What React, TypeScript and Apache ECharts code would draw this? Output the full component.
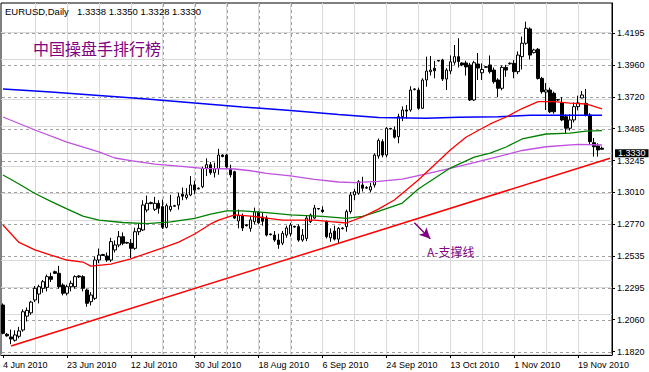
import React, { useEffect, useRef } from 'react';
import * as echarts from 'echarts';

const symbolName = 'EURUSD,Daily';
const headline = '中国操盘手排行榜';
const supportLabel = 'A-支撑线';

// Daily bars, 4 Jun 2010 .. 26 Nov 2010 (broker has short Sunday bars)
const opens = [
  1.2168, 1.1950, 1.1930, 1.1905, 1.1935, 1.1982, 1.2085, 1.2110, 1.2206, 1.2250,
  1.2293, 1.2300, 1.2380, 1.2417, 1.2405, 1.2317, 1.2256, 1.2305, 1.2305, 1.2385,
  1.2380, 1.2280, 1.2193, 1.2218, 1.2504, 1.2545, 1.2534, 1.2504, 1.2579, 1.2616,
  1.2678, 1.2630, 1.2629, 1.2591, 1.2715, 1.2728, 1.2877, 1.2932, 1.2882, 1.2927,
  1.2902, 1.2748, 1.2880, 1.2905, 1.2914, 1.2995, 1.2970, 1.2989, 1.3064, 1.3035,
  1.3051, 1.3190, 1.3215, 1.3155, 1.3185, 1.3287, 1.3287, 1.3185, 1.3163, 1.2795,
  1.2835, 1.2767, 1.2740, 1.2790, 1.2860, 1.2825, 1.2817, 1.2698, 1.2690, 1.2653,
  1.2630, 1.2690, 1.2700, 1.2755, 1.2753, 1.2653, 1.2665, 1.2790, 1.2817, 1.2888,
  1.2877, 1.2790, 1.2670, 1.2720, 1.2660, 1.2738, 1.2753, 1.2865, 1.2990, 1.3002,
  1.3064, 1.3040, 1.3026, 1.3064, 1.3280, 1.3387, 1.3287, 1.3485, 1.3474, 1.3424,
  1.3573, 1.3623, 1.3623, 1.3775, 1.3772, 1.3636, 1.3847, 1.3909, 1.3934, 1.3993,
  1.3996, 1.3854, 1.3914, 1.3979, 1.4021, 1.3974, 1.3974, 1.3959, 1.3698, 1.3966,
  1.3901, 1.3946, 1.3959, 1.3921, 1.3847, 1.3785, 1.3941, 1.3968, 1.3971, 1.3909,
  1.4021, 1.4121, 1.4228, 1.4051, 1.4076, 1.3859, 1.3757, 1.3772, 1.3748, 1.3700,
  1.3676, 1.3573, 1.3487, 1.3549, 1.3648, 1.3713, 1.3673, 1.3586, 1.3379, 1.3355,
  1.3338,
];
const highs = [
  1.2180, 1.1960, 1.1985, 1.1980, 1.2005, 1.2136, 1.2150, 1.2200, 1.2310, 1.2320,
  1.2355, 1.2395, 1.2410, 1.2425, 1.2460, 1.2330, 1.2320, 1.2350, 1.2390, 1.2390,
  1.2390, 1.2290, 1.2265, 1.2530, 1.2590, 1.2550, 1.2560, 1.2670, 1.2650, 1.2720,
  1.2710, 1.2640, 1.2660, 1.2745, 1.2780, 1.2950, 1.2985, 1.2940, 1.2975, 1.2950,
  1.2955, 1.2925, 1.2990, 1.2915, 1.3005, 1.3045, 1.3040, 1.3130, 1.3095, 1.3045,
  1.3200, 1.3262, 1.3235, 1.3230, 1.3333, 1.3292, 1.3295, 1.3215, 1.3170, 1.2880,
  1.2850, 1.2770, 1.2830, 1.2895, 1.2870, 1.2860, 1.2835, 1.2702, 1.2720, 1.2700,
  1.2720, 1.2760, 1.2780, 1.2760, 1.2770, 1.2735, 1.2840, 1.2850, 1.2915, 1.2892,
  1.2905, 1.2800, 1.2740, 1.2760, 1.2750, 1.2748, 1.2880, 1.3010, 1.3035, 1.3100,
  1.3125, 1.3055, 1.3080, 1.3300, 1.3410, 1.3405, 1.3495, 1.3490, 1.3500, 1.3595,
  1.3650, 1.3660, 1.3800, 1.3785, 1.3790, 1.3860, 1.4021, 1.4026, 1.3990, 1.3996,
  1.4005, 1.3935, 1.4030, 1.4108, 1.4158, 1.3978, 1.3990, 1.3975, 1.3990, 1.4048,
  1.3971, 1.3950, 1.4030, 1.3940, 1.3860, 1.3955, 1.3960, 1.3978, 1.3995, 1.4060,
  1.4170, 1.4282, 1.4240, 1.4080, 1.4085, 1.3870, 1.3824, 1.3790, 1.3760, 1.3705,
  1.3720, 1.3590, 1.3590, 1.3680, 1.3730, 1.3765, 1.3780, 1.3600, 1.3414, 1.3375,
  1.3350,
];
const lows = [
  1.1950, 1.1932, 1.1876, 1.1895, 1.1920, 1.1969, 1.2045, 1.2095, 1.2190, 1.2180,
  1.2260, 1.2270, 1.2340, 1.2400, 1.2290, 1.2240, 1.2240, 1.2270, 1.2290, 1.2370,
  1.2270, 1.2155, 1.2165, 1.2205, 1.2480, 1.2535, 1.2490, 1.2490, 1.2560, 1.2600,
  1.2615, 1.2625, 1.2519, 1.2580, 1.2690, 1.2720, 1.2860, 1.2920, 1.2870, 1.2850,
  1.2735, 1.2740, 1.2865, 1.2900, 1.2880, 1.2950, 1.2955, 1.2980, 1.2995, 1.3030,
  1.3040, 1.3130, 1.3140, 1.3120, 1.3140, 1.3270, 1.3190, 1.3120, 1.2810, 1.2740,
  1.2720, 1.2755, 1.2715, 1.2770, 1.2770, 1.2760, 1.2680, 1.2688, 1.2640, 1.2588,
  1.2615, 1.2670, 1.2680, 1.2745, 1.2640, 1.2640, 1.2645, 1.2780, 1.2810, 1.2880,
  1.2855, 1.2665, 1.2640, 1.2650, 1.2630, 1.2732, 1.2715, 1.2850, 1.2950, 1.2990,
  1.3015, 1.3035, 1.3010, 1.3045, 1.3260, 1.3270, 1.3270, 1.3478, 1.3410, 1.3375,
  1.3540, 1.3560, 1.3610, 1.3770, 1.3625, 1.3630, 1.3797, 1.3880, 1.3860, 1.3985,
  1.3840, 1.3772, 1.3890, 1.3960, 1.3940, 1.3950, 1.3880, 1.3690, 1.3690, 1.3847,
  1.3847, 1.3938, 1.3895, 1.3820, 1.3718, 1.3770, 1.3870, 1.3962, 1.3860, 1.3890,
  1.3925, 1.4110, 1.4000, 1.4045, 1.3850, 1.3745, 1.3623, 1.3600, 1.3595, 1.3690,
  1.3540, 1.3445, 1.3470, 1.3530, 1.3620, 1.3710, 1.3575, 1.3370, 1.3275, 1.3275,
  1.3328,
];
const closes = [
  1.1957, 1.1938, 1.1915, 1.1945, 1.1975, 1.2118, 1.2128, 1.2190, 1.2293, 1.2305,
  1.2342, 1.2380, 1.2360, 1.2405, 1.2305, 1.2256, 1.2305, 1.2330, 1.2380, 1.2378,
  1.2293, 1.2181, 1.2243, 1.2504, 1.2541, 1.2538, 1.2504, 1.2641, 1.2616, 1.2678,
  1.2629, 1.2635, 1.2591, 1.2715, 1.2740, 1.2914, 1.2927, 1.2925, 1.2927, 1.2890,
  1.2748, 1.2909, 1.2905, 1.2910, 1.2976, 1.2980, 1.2990, 1.3064, 1.3026, 1.3040,
  1.3188, 1.3215, 1.3155, 1.3185, 1.3287, 1.3276, 1.3200, 1.3140, 1.2817, 1.2835,
  1.2743, 1.2760, 1.2803, 1.2865, 1.2782, 1.2793, 1.2690, 1.2693, 1.2653, 1.2620,
  1.2703, 1.2743, 1.2765, 1.2750, 1.2653, 1.2690, 1.2817, 1.2840, 1.2892, 1.2885,
  1.2865, 1.2678, 1.2705, 1.2660, 1.2740, 1.2742, 1.2865, 1.2989, 1.3014, 1.3088,
  1.3040, 1.3045, 1.3051, 1.3287, 1.3395, 1.3287, 1.3487, 1.3481, 1.3420, 1.3573,
  1.3623, 1.3615, 1.3772, 1.3780, 1.3636, 1.3847, 1.3914, 1.3921, 1.3916, 1.3989,
  1.3854, 1.3921, 1.3983, 1.4021, 1.3985, 1.3959, 1.3944, 1.3698, 1.3976, 1.3936,
  1.3926, 1.3942, 1.3909, 1.3834, 1.3785, 1.3941, 1.3921, 1.3972, 1.3909, 1.4033,
  1.4121, 1.4233, 1.4033, 1.4071, 1.3859, 1.3760, 1.3772, 1.3610, 1.3610, 1.3698,
  1.3549, 1.3487, 1.3549, 1.3648, 1.3676, 1.3735, 1.3586, 1.3387, 1.3349, 1.3325,
  1.3330,
];

// date labels, one every 16 bars
const xTickLabels = [
  '4 Jun 2010', '23 Jun 2010', '12 Jul 2010', '30 Jul 2010', '18 Aug 2010',
  '6 Sep 2010', '24 Sep 2010', '13 Oct 2010', '1 Nov 2010', '19 Nov 2010',
];
const yTickLabels = [
  '1.1820', '1.2060', '1.2295', '1.2535', '1.2770', '1.3010',
  '1.3245', '1.3485', '1.3720', '1.3960', '1.4195',
];

// moving averages: [bar index, value]
const maRed = [
  [0, 1.2765], [4, 1.2635], [8, 1.2579], [12, 1.2541], [16, 1.2504], [20, 1.2489],
  [22, 1.2459], [27, 1.2474], [32, 1.2512], [36, 1.2554], [40, 1.2594], [44, 1.2638],
  [48, 1.2698], [52, 1.2773], [54, 1.2802], [58, 1.2840], [62, 1.2832], [66, 1.2817],
  [70, 1.2802], [74, 1.2802], [78, 1.2802], [82, 1.2790], [86, 1.2780], [90, 1.2825],
  [94, 1.2884], [98, 1.2952], [104, 1.3101], [112, 1.3325], [116, 1.3422], [122, 1.3519],
  [126, 1.3571], [130, 1.3634], [134, 1.3685], [138, 1.3685], [142, 1.3675], [146, 1.3668],
  [150, 1.3631],
];
const maGreen = [
  [0, 1.3138], [4, 1.3071], [8, 1.3000], [12, 1.2941], [16, 1.2885], [20, 1.2832],
  [24, 1.2802], [30, 1.2784], [36, 1.2776], [42, 1.2788], [48, 1.2814], [52, 1.2847],
  [56, 1.2870], [60, 1.2870], [66, 1.2858], [72, 1.2840], [80, 1.2829], [86, 1.2815],
  [90, 1.2829], [94, 1.2866], [100, 1.2929], [104, 1.3034], [112, 1.3190], [118, 1.3272],
  [122, 1.3302], [126, 1.3347], [130, 1.3407], [136, 1.3444], [142, 1.3451], [146, 1.3466],
  [150, 1.3469],
];
const maViolet = [
  [0, 1.3571], [8, 1.3474], [16, 1.3384], [24, 1.3310], [28, 1.3265], [32, 1.3245],
  [38, 1.3220], [44, 1.3205], [50, 1.3188], [58, 1.3183], [62, 1.3170], [66, 1.3151],
  [72, 1.3131], [78, 1.3105], [84, 1.3086], [88, 1.3081], [94, 1.3090], [100, 1.3108],
  [106, 1.3146], [112, 1.3188], [118, 1.3231], [122, 1.3261], [130, 1.3321], [136, 1.3349],
  [144, 1.3367], [150, 1.3362],
];
const maBlue = [
  [0, 1.3780], [12, 1.3757], [24, 1.3731], [36, 1.3705], [48, 1.3675], [60, 1.3646],
  [72, 1.3619], [84, 1.3590], [94, 1.3567], [106, 1.3561], [114, 1.3569], [124, 1.3573],
  [132, 1.3584], [150, 1.3584],
];

// support trend line and the arrow pointing at it
const supportLine = [[2, 1.1863], [152, 1.3263]];
const arrowLine = [[103, 1.2782], [107, 1.2662]];

const BAR_SLOTS = 153;
const Y_MIN = 1.17954;
const Y_MAX = 1.44213;
const FONT = '"Liberation Sans", Arial, sans-serif';
const CJK = '"Noto Sans CJK SC", sans-serif';
const PURPLE = '#800080';
const GRID_COLOR = '#a0a0a0';
const GRID_BASE = '#dadada';

function sparse(points: number[][]) {
  const arr: (number | null)[] = new Array(BAR_SLOTS).fill(null);
  points.forEach(([i, v]) => {
    arr[i] = v;
  });
  return arr;
}

function lineSeries(name: string, points: number[][], color: string, width: number, z: number) {
  return {
    name,
    type: 'line',
    data: sparse(points),
    connectNulls: true,
    showSymbol: false,
    symbol: 'none',
    silent: true,
    z,
    lineStyle: { color, width },
  };
}

export default function App() {
  const ref = useRef<HTMLDivElement>(null);

  useEffect(() => {
    if (!ref.current) return;
    const chart = echarts.init(ref.current, undefined, { renderer: 'svg' });
    const categories = Array.from({ length: BAR_SLOTS }, (_, i) => 'b' + i);
    const candles = opens.map((o, i) => [o, closes[i], lows[i], highs[i]]);
    const last = opens.length - 1;
    const yTickValues = yTickLabels.map(Number);
    const showTick = (i: number) => i % 16 === 0 && i <= 144;

    // faint solid base of the grid, placed by the axes
    const baseStyle = { color: GRID_BASE, type: 'solid', width: 1 };
    const gridBase: any[] = [];
    for (let i = 8; i <= 144; i += 8) gridBase.push({ xAxis: i, lineStyle: baseStyle });
    yTickValues.forEach((v) => gridBase.push({ yAxis: v, lineStyle: baseStyle }));

    const priceLine = {
      yAxis: closes[last],
      lineStyle: { color: '#c0c0c0', type: 'solid', width: 1 },
      label: {
        show: true,
        position: 'end',
        formatter: closes[last].toFixed(4),
        backgroundColor: '#000',
        color: '#fff',
        fontSize: 9,
        fontFamily: FONT,
        lineHeight: 8,
        padding: [0, 3, 0, 3],
        distance: 3,
      },
    };

    const ohlcText = [opens[last], highs[last], lows[last], closes[last]]
      .map((v) => v.toFixed(4))
      .join(' ');

    const texts: any[] = [
      {
        type: 'text',
        left: 5,
        top: 6,
        z: 100,
        style: { text: symbolName, fontSize: 9.5, fontFamily: FONT, fill: '#000' },
      },
      {
        type: 'text',
        left: 77,
        top: 6,
        z: 100,
        style: { text: ohlcText, fontSize: 9.5, fontFamily: FONT, fill: '#000' },
      },
      {
        type: 'text',
        left: 33,
        top: 40,
        z: 100,
        style: { text: headline, fontSize: 16, fontFamily: CJK, fill: PURPLE },
      },
      {
        type: 'text',
        left: 427,
        top: 245,
        z: 100,
        style: { text: supportLabel, fontSize: 12, fontFamily: CJK, fill: PURPLE },
      },
    ];

    chart.setOption({
      animation: false,
      backgroundColor: '#fff',
      grid: {
        left: 1,
        top: 3,
        right: 37,
        bottom: 17,
        show: true,
        borderColor: '#000',
        borderWidth: 1,
        backgroundColor: 'transparent',
      },
      xAxis: {
        type: 'category',
        data: categories,
        boundaryGap: true,
        axisLine: { show: true, lineStyle: { color: '#000', width: 1 } },
        axisTick: {
          show: true,
          alignWithLabel: true,
          interval: (i: number) => showTick(i),
          length: 3,
          lineStyle: { color: '#000' },
        },
        axisLabel: {
          show: true,
          interval: (i: number) => showTick(i),
          formatter: (_v: string, i: number) => xTickLabels[i / 16] || '',
          align: 'left',
          margin: 5,
          fontSize: 9,
          fontFamily: FONT,
          color: '#000',
        },
        splitLine: { show: false },
      },
      yAxis: {
        type: 'value',
        position: 'right',
        min: Y_MIN,
        max: Y_MAX,
        scale: true,
        axisLine: { show: true, lineStyle: { color: '#000', width: 1 } },
        axisTick: {
          show: true,
          length: 3,
          customValues: yTickValues,
          lineStyle: { color: '#000' },
        },
        axisLabel: {
          show: true,
          customValues: yTickValues,
          formatter: (v: number) => v.toFixed(4),
          margin: 5,
          fontSize: 9,
          lineHeight: 8,
          fontFamily: FONT,
          color: '#000',
        },
        splitLine: { show: false },
      },
      graphic: texts,
      series: [
        {
          name: 'price',
          type: 'candlestick',
          data: candles,
          barWidth: 3,
          z: 2,
          silent: true,
          itemStyle: {
            color: '#fff',
            color0: '#000',
            borderColor: '#000',
            borderColor0: '#000',
            borderWidth: 1,
          },
          markLine: {
            silent: true,
            symbol: 'none',
            animation: false,
            z: 1,
            label: { show: false },
            data: [...gridBase, priceLine],
          },
        },
        lineSeries('MA blue', maBlue, '#0000ff', 1.5, 3),
        lineSeries('MA violet', maViolet, '#c050e0', 1.3, 3),
        lineSeries('MA green', maGreen, '#008000', 1.3, 3),
        lineSeries('MA red', maRed, '#ff0000', 1.3, 3),
        {
          name: 'support',
          type: 'line',
          data: sparse(supportLine),
          connectNulls: true,
          showSymbol: false,
          symbol: 'none',
          silent: true,
          z: 4,
          lineStyle: { color: '#ff0000', width: 1.5 },
          markLine: {
            silent: true,
            animation: false,
            symbol: ['none', 'arrow'],
            symbolSize: [8, 11],
            label: { show: false },
            lineStyle: { color: PURPLE, width: 1.5, type: 'solid' },
            data: [[{ coord: arrowLine[0] }, { coord: arrowLine[1] }]],
          },
        },
      ],
    });

    // dashed grid (3px on, 3px off) placed through the chart's own scales
    const toPx = (x: number, y: number) =>
      chart.convertToPixel({ gridIndex: 0 }, [x, y]) as unknown as number[];
    const topLeft = toPx(0, Y_MAX);
    const bottomRight = toPx(BAR_SLOTS - 1, Y_MIN);
    const plotTop = Math.round(topLeft[1]) + 1;
    const plotBottom = Math.round(bottomRight[1]) - 1;
    const plotLeft = 2;
    const plotRight = Math.round(bottomRight[0]) + 1;
    const grid: any[] = [];
    const segStyle = { stroke: GRID_COLOR, lineWidth: 1 };
    for (let i = 8; i <= 144; i += 8) {
      const x = Math.round(toPx(i, Y_MIN)[0]) + 0.5;
      for (let y = plotTop; y < plotBottom; y += 6) {
        grid.push({
          type: 'line',
          silent: true,
          z: 1,
          shape: { x1: x, y1: y, x2: x, y2: Math.min(y + 3, plotBottom) },
          style: segStyle,
        });
      }
    }
    yTickValues.forEach((v) => {
      const y = Math.round(toPx(0, v)[1]) + 0.5;
      for (let x = plotLeft; x < plotRight; x += 6) {
        grid.push({
          type: 'line',
          silent: true,
          z: 1,
          shape: { x1: x, y1: y, x2: Math.min(x + 3, plotRight), y2: y },
          style: segStyle,
        });
      }
    });
    chart.setOption({ graphic: [...texts, ...grid] });

    return () => chart.dispose();
  }, []);

  return (
    <div
      ref={ref}
      style={{ position: 'absolute', left: 0, top: 0, width: 649, height: 372, background: '#fff' }}
    />
  );
}
